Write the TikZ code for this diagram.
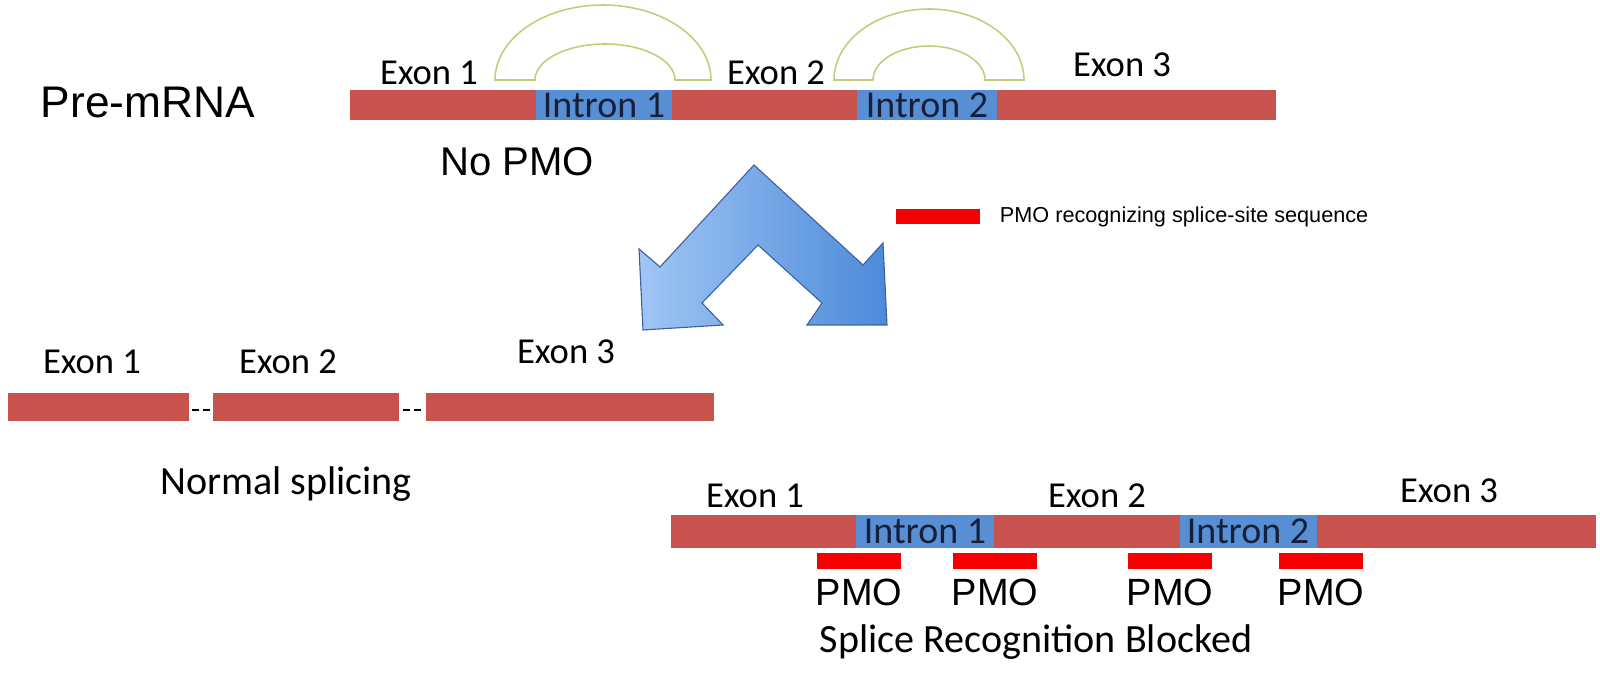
\documentclass[tikz,border=0pt]{standalone}
\usepackage{fontspec}
\setmainfont{Carlito}
\newfontfamily\arialfont{Liberation Sans}

\definecolor{exonred}{RGB}{200,82,78}
\definecolor{intronblue}{RGB}{88,142,212}
\definecolor{introntext}{RGB}{22,32,58}
\definecolor{arcline}{RGB}{196,204,120}
\definecolor{pmored}{RGB}{245,0,0}
\definecolor{arrowlight}{RGB}{160,198,244}
\definecolor{arrowdark}{RGB}{76,138,218}
\definecolor{arrowedge}{RGB}{62,98,160}

\tikzset{
  exon/.style={fill=exonred},
  intron/.style={fill=intronblue},
  pmobar/.style={fill=pmored},
  spliceband/.style={draw=arcline, line width=1.1pt, fill=white},
  exonlabel/.style={font=\fontsize{26}{30}\selectfont},
  intronlabel/.style={font=\fontsize{27}{30}\selectfont, text=introntext, inner sep=0pt},
  captionlabel/.style={font=\fontsize{28.5}{32}\selectfont},
  pmolabel/.style={font=\arialfont\fontsize{27}{30}\selectfont},
  gapline/.style={line width=1pt, dash pattern=on 5pt off 2.8pt}
}

\begin{document}
\begin{tikzpicture}[x=0.025cm, y=-0.025cm]
  \useasboundingbox (0,0) rectangle (1600,674);

  % pre-mRNA
  \node (prelabel) at (148,102) [font=\arialfont\fontsize{31.5}{34}\selectfont] {Pre-mRNA};
  \fill[exon] (350,90) rectangle (1276,120);
  \fill[intron] (536,90) rectangle (672,120);
  \fill[intron] (857,90) rectangle (997,120);
  \node (topint1) at (604,105) [intronlabel] {Intron 1};
  \node (topint2) at (927,105) [intronlabel] {Intron 2};
  \path[spliceband] (495,80) arc[start angle=180, end angle=360, x radius=108, y radius=75]
    -- (675,80) arc[start angle=0, end angle=-180, x radius=70, y radius=36] -- cycle;
  \path[spliceband] (834,80) arc[start angle=180, end angle=360, x radius=95, y radius=71]
    -- (985,80) arc[start angle=0, end angle=-180, x radius=56, y radius=34] -- cycle;
  \node (topex1) at (429,73) [exonlabel] {Exon 1};
  \node (topex2) at (776,73) [exonlabel] {Exon 2};
  \node (topex3) at (1122,65) [exonlabel] {Exon 3};
  \node (nopmo) at (517,162) [font=\arialfont\fontsize{28.5}{32}\selectfont] {No PMO};

  % branching arrow
  \draw[arrowedge, line width=0.8pt, left color=arrowlight, right color=arrowdark]
    (754,165) -- (863,265) -- (883,243) -- (887,325) -- (807,325) -- (822,303)
    -- (758,245) -- (702,303) -- (723,325) -- (643,330) -- (639,249) -- (660,267) -- cycle;

  % legend
  \fill[pmobar] (896,209) rectangle (980,224);
  \node (legendtxt) at (995,217) [anchor=west, font=\arialfont\fontsize{15.4}{18}\selectfont] {PMO recognizing splice-site sequence};

  % normal splicing
  \fill[exon] (8,393) rectangle (189,421);
  \fill[exon] (213,393) rectangle (399,421);
  \fill[exon] (426,393) rectangle (714,421);
  \coordinate (gap1a) at (192,410);
  \coordinate (gap1b) at (210,410);
  \coordinate (gap2a) at (403,410);
  \coordinate (gap2b) at (421,410);
  \draw[gapline] (gap1a) -- (gap1b);
  \draw[gapline] (gap2a) -- (gap2b);
  \node (nsex1) at (92,362) [exonlabel] {Exon 1};
  \node (nsex2) at (288,362) [exonlabel] {Exon 2};
  \node (nsex3) at (566,352) [exonlabel] {Exon 3};
  \node (normal) at (286,484) [captionlabel] {Normal splicing};

  % blocked splicing
  \fill[exon] (671,515) rectangle (1596,548);
  \fill[intron] (856,515) rectangle (994,548);
  \fill[intron] (1180,515) rectangle (1317,548);
  \node (blint1) at (925,531) [intronlabel] {Intron 1};
  \node (blint2) at (1248,531) [intronlabel] {Intron 2};
  \node (blex1) at (755,496) [exonlabel] {Exon 1};
  \node (blex2) at (1097,496) [exonlabel] {Exon 2};
  \node (blex3) at (1449,491) [exonlabel] {Exon 3};
  \fill[pmobar] (817,553) rectangle (901,569);
  \fill[pmobar] (953,553) rectangle (1037,569);
  \fill[pmobar] (1128,553) rectangle (1212,569);
  \fill[pmobar] (1279,553) rectangle (1363,569);
  \node (pmo1) at (859,592) [pmolabel] {PMO};
  \node (pmo2) at (995,592) [pmolabel] {PMO};
  \node (pmo3) at (1170,592) [pmolabel] {PMO};
  \node (pmo4) at (1321,592) [pmolabel] {PMO};
  \node (blocked) at (1036,642) [captionlabel] {Splice Recognition Blocked};
\end{tikzpicture}
\end{document}
